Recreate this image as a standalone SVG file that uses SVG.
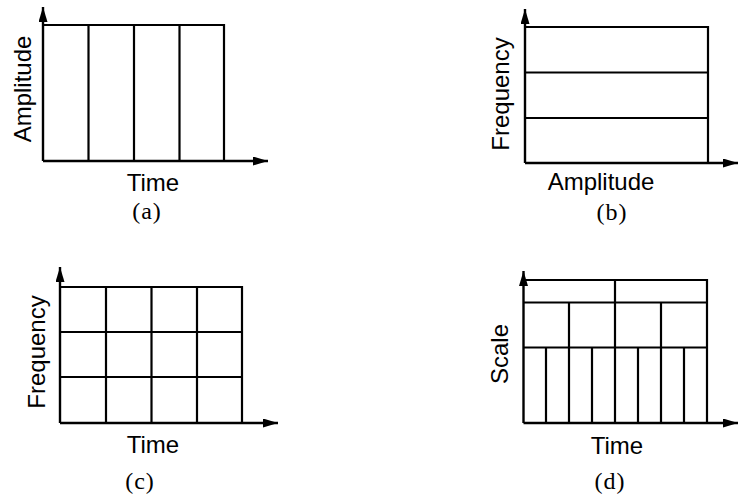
<svg xmlns="http://www.w3.org/2000/svg" width="738" height="497" viewBox="0 0 738 497">
<defs>
<marker id="arr" viewBox="0 0 15 9" refX="15" refY="4.5" markerWidth="15" markerHeight="9" markerUnits="userSpaceOnUse" orient="auto">
<path d="M0,0 L15,4.5 L0,9 Z" fill="#000"/>
</marker>
</defs>
<style>
.ax{stroke:#000;stroke-width:2.4;fill:none}
.ln{stroke:#000;stroke-width:2.2;fill:none}
.lbl{font-family:"Liberation Sans",Arial,sans-serif;font-size:24px;fill:#000;text-anchor:middle}
.cap{font-family:"Liberation Serif","Times New Roman",serif;font-size:24px;fill:#000;text-anchor:middle;letter-spacing:1px}
</style>
<rect width="738" height="497" fill="#fff"/>

<g id="panel-a">
<path class="ln" d="M43,25 H224 V161 M88.5,25 V161 M134,25 V161 M179.5,25 V161"/>
<text class="lbl" transform="translate(31,89) rotate(-90)">Amplitude</text>
<text class="lbl" x="153" y="191">Time</text>
<text class="cap" x="147" y="219">(a)</text>
</g>

<g id="panel-b">
<path class="ln" d="M525,27 H708 V163 M525,72.5 H708 M525,118 H708"/>
<text class="lbl" transform="translate(509,94) rotate(-90)">Frequency</text>
<text class="lbl" x="601" y="190">Amplitude</text>
<text class="cap" x="612" y="220">(b)</text>
</g>

<g id="panel-c">
<path class="ln" d="M60,287 H242 V423 M106,287 V423 M151.5,287 V423 M197,287 V423 M60,332 H242 M60,377 H242"/>
<text class="lbl" transform="translate(45,352) rotate(-90)">Frequency</text>
<text class="lbl" x="153" y="453">Time</text>
<text class="cap" x="140" y="489">(c)</text>
</g>

<g id="panel-d">
<path class="ln" d="M523.5,280 H707 V423 M523.5,302.5 H707 M523.5,347.5 H707 M615,280 V423 M569,302.5 V423 M661,302.5 V423 M546,347.5 V423 M592,347.5 V423 M638,347.5 V423 M684,347.5 V423"/>
<text class="lbl" transform="translate(508,354) rotate(-90)">Scale</text>
<text class="lbl" x="617" y="454">Time</text>
<text class="cap" x="610" y="489">(d)</text>
</g>

<g id="connectors">
<line class="ax" x1="43" y1="161" x2="43" y2="7" marker-end="url(#arr)"/>
<line class="ax" x1="43" y1="161" x2="268" y2="161" marker-end="url(#arr)"/>
<line class="ax" x1="525" y1="163" x2="525" y2="9" marker-end="url(#arr)"/>
<line class="ax" x1="525" y1="163" x2="738" y2="163" marker-end="url(#arr)"/>
<line class="ax" x1="60" y1="423" x2="60" y2="267" marker-end="url(#arr)"/>
<line class="ax" x1="60" y1="423" x2="278" y2="423" marker-end="url(#arr)"/>
<line class="ax" x1="523.5" y1="423" x2="523.5" y2="271" marker-end="url(#arr)"/>
<line class="ax" x1="523.5" y1="423" x2="738" y2="423" marker-end="url(#arr)"/>
</g>
</svg>
